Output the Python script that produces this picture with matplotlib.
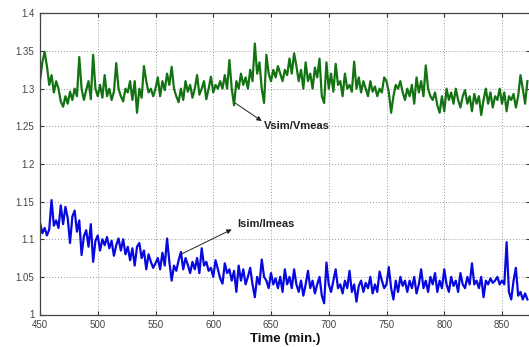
import numpy as np
import matplotlib
matplotlib.use("Agg")
import matplotlib.pyplot as plt

# time axis (min), one sample every 2 minutes
t_start, t_step = 450, 2

v_ratio = [
    1.31, 1.335, 1.349, 1.33, 1.305, 1.318, 1.295, 1.31, 1.30, 1.283,
    1.276, 1.29, 1.28, 1.296, 1.285, 1.30, 1.29, 1.342, 1.30, 1.285,
    1.298, 1.31, 1.286, 1.345, 1.30, 1.29, 1.305, 1.288, 1.318, 1.29,
    1.30, 1.285, 1.296, 1.334, 1.30, 1.29, 1.283, 1.30, 1.295, 1.31,
    1.285, 1.31, 1.268, 1.30, 1.288, 1.33, 1.31, 1.295, 1.30, 1.29,
    1.30, 1.315, 1.29, 1.31, 1.298, 1.32, 1.305, 1.329, 1.30, 1.29,
    1.282, 1.30, 1.285, 1.31, 1.296, 1.305, 1.288, 1.30, 1.318, 1.292,
    1.30, 1.31, 1.286, 1.30, 1.316, 1.295, 1.305, 1.30, 1.31, 1.30,
    1.318, 1.30, 1.338, 1.30, 1.278, 1.31, 1.30, 1.32, 1.305, 1.315,
    1.30, 1.325, 1.31, 1.36, 1.32, 1.335, 1.30, 1.281, 1.345, 1.32,
    1.31, 1.325, 1.315, 1.33, 1.32, 1.31, 1.325, 1.318, 1.34, 1.32,
    1.347, 1.33, 1.31, 1.325, 1.30, 1.335, 1.31, 1.32, 1.30, 1.328,
    1.315, 1.34, 1.29, 1.281, 1.335, 1.30, 1.32, 1.296, 1.333, 1.305,
    1.31, 1.29, 1.32, 1.30, 1.305, 1.296, 1.336, 1.30, 1.315, 1.295,
    1.31, 1.30, 1.29, 1.31, 1.296, 1.303, 1.29, 1.30, 1.295, 1.315,
    1.31, 1.295, 1.268, 1.29, 1.305, 1.30, 1.31, 1.295, 1.285, 1.30,
    1.29, 1.305, 1.28, 1.315, 1.295, 1.31, 1.29, 1.331, 1.30, 1.29,
    1.285, 1.295, 1.278, 1.268, 1.29, 1.27, 1.30, 1.285, 1.295, 1.28,
    1.30, 1.285, 1.275, 1.29, 1.298, 1.28, 1.29, 1.27, 1.293, 1.28,
    1.29, 1.265, 1.285, 1.30, 1.28, 1.295, 1.275, 1.29, 1.285, 1.30,
    1.28, 1.295, 1.27, 1.29, 1.285, 1.293, 1.275, 1.29, 1.318, 1.30,
    1.28, 1.31,
]

i_ratio = [
    1.122, 1.108, 1.115, 1.105, 1.113, 1.152, 1.118, 1.125, 1.115, 1.145,
    1.12, 1.143, 1.128, 1.095, 1.13, 1.138, 1.11, 1.125, 1.079, 1.104,
    1.112, 1.09, 1.12, 1.07, 1.098, 1.105, 1.085, 1.10, 1.092, 1.103,
    1.088, 1.098, 1.078, 1.092, 1.101, 1.085, 1.10, 1.08, 1.09, 1.072,
    1.088, 1.065, 1.09, 1.095, 1.075, 1.085, 1.06, 1.08, 1.07, 1.062,
    1.068, 1.075, 1.06, 1.082, 1.065, 1.101, 1.07, 1.045, 1.065, 1.058,
    1.072, 1.083, 1.06, 1.075, 1.066, 1.055, 1.07, 1.06, 1.075, 1.055,
    1.088, 1.065, 1.07, 1.058, 1.062, 1.05, 1.072, 1.06, 1.048, 1.041,
    1.068, 1.055, 1.06, 1.045, 1.058, 1.03, 1.065, 1.045, 1.06, 1.04,
    1.05, 1.062, 1.04, 1.023, 1.05, 1.04, 1.073, 1.05, 1.045, 1.035,
    1.055, 1.04, 1.048, 1.035, 1.05, 1.03, 1.06, 1.04, 1.05, 1.035,
    1.06, 1.04, 1.03, 1.045, 1.025, 1.04, 1.058, 1.035, 1.045, 1.028,
    1.04, 1.05, 1.025, 1.015, 1.069, 1.04, 1.03, 1.045, 1.06, 1.035,
    1.04, 1.028, 1.045, 1.035, 1.058, 1.03, 1.04, 1.017, 1.038, 1.045,
    1.03, 1.042, 1.035, 1.05, 1.028, 1.04, 1.03, 1.057, 1.045, 1.035,
    1.04, 1.063, 1.035, 1.02, 1.045, 1.03, 1.05, 1.038, 1.045, 1.03,
    1.045, 1.035, 1.05, 1.028, 1.04, 1.06, 1.035, 1.045, 1.03, 1.05,
    1.04, 1.055, 1.03, 1.045, 1.035, 1.06, 1.04, 1.03, 1.05, 1.038,
    1.045, 1.03, 1.055, 1.04, 1.035, 1.05, 1.04, 1.068, 1.04, 1.045,
    1.035, 1.05, 1.023, 1.045, 1.04, 1.048, 1.042, 1.045, 1.05, 1.04,
    1.045, 1.04, 1.096, 1.03, 1.02, 1.045, 1.062, 1.025, 1.03, 1.02,
    1.028, 1.02,
]

x_ticks = [450, 500, 550, 600, 650, 700, 750, 800, 850]
y_ticks = [1.0, 1.05, 1.1, 1.15, 1.2, 1.25, 1.3, 1.35, 1.4]
y_ticklabels = ["1", "1.05", "1.1", "1.15", "1.2", "1.25", "1.3", "1.35", "1.4"]
x_label = "Time (min.)"
label_v = "Vsim/Vmeas"
label_i = "Isim/Imeas"

t = t_start + t_step * np.arange(len(v_ratio))

plt.rcParams['font.family'] = ['Liberation Sans', 'DejaVu Sans']

W, H = 529, 347
fig = plt.figure(figsize=(W / 100, H / 100), dpi=100)
left_px, right_px, top_px, bot_px = 40, 530, 13.4, 314.5
ax = fig.add_axes([left_px / W, 1 - bot_px / H, (right_px - left_px) / W, (bot_px - top_px) / H])

ax.plot(t, v_ratio, color='#137313', lw=1.6)
ax.plot(t, i_ratio, color='#0808e0', lw=1.6)

ax.set_xlim(450, 450 + (right_px - left_px) / 1.155)
ax.set_ylim(1.0, 1.4)
ax.set_xticks(x_ticks)
ax.set_yticks(y_ticks)
ax.set_yticklabels(y_ticklabels)
ax.grid(True, linestyle=(0, (1, 2)), color='#999999', lw=0.7)
ax.tick_params(direction='in', top=True, right=True, length=3, labelsize=7,
               colors='#333333', labelcolor='#444444', pad=4)
for s in ax.spines.values():
    s.set_color('#444444')
    s.set_linewidth(0.9)

ax.set_xlabel(x_label, fontsize=9.5, fontweight='bold', labelpad=2, color='#111111')

arrow = dict(arrowstyle='-|>', color='#222222', lw=0.7, mutation_scale=7,
             shrinkA=0, shrinkB=0)
ax.annotate('', xy=(642, 1.257), xytext=(619, 1.281), arrowprops=arrow)
ax.text(644, 1.250, label_v, fontsize=8, fontweight='bold', va='center',
        ha='left', color='#222222')
ax.annotate('', xy=(616, 1.113), xytext=(572, 1.080), arrowprops=arrow)
ax.text(620.5, 1.120, label_i, fontsize=8, fontweight='bold', va='center',
        ha='left', color='#222222')

fig.savefig("out.png", dpi=100)
